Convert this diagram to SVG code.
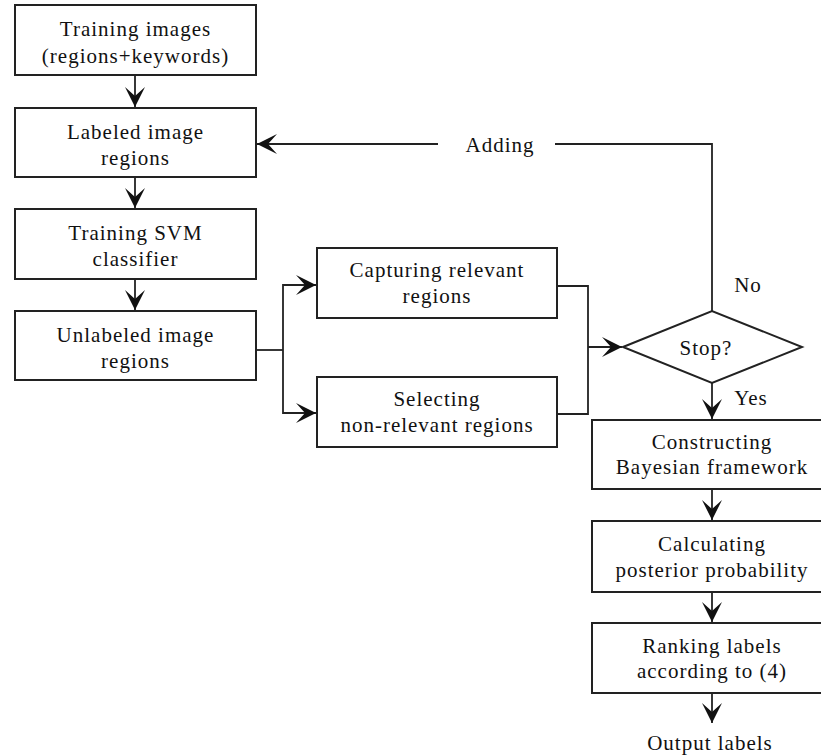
<svg xmlns="http://www.w3.org/2000/svg" width="821" height="756" viewBox="0 0 821 756">
<style>
.box{fill:#fff;stroke:#222;stroke-width:2}
.ln{fill:none;stroke:#222;stroke-width:1.8}
.arr{fill:none;stroke:#222;stroke-width:1.8;marker-end:url(#ah)}
.t{font-family:'Liberation Serif',serif;font-size:21px;fill:#111;text-anchor:middle;letter-spacing:1px}
</style>
<defs>
<marker id="ah" markerUnits="userSpaceOnUse" markerWidth="24" markerHeight="24" viewBox="-22 -12 24 24" refX="0" refY="0" orient="auto">
<path d="M0,0 L-20,-10 L-11,0 L-20,10 Z" fill="#111"/>
</marker>
</defs>
<rect width="821" height="756" fill="#fff"/>
<g id="connectors">
<line class="arr" x1="135" y1="75" x2="135" y2="107"/>
<line class="arr" x1="135" y1="177" x2="135" y2="208"/>
<line class="arr" x1="135" y1="279" x2="135" y2="310"/>
<polyline class="ln" points="256,350 283,350"/>
<polyline class="arr" points="283,350 283,285 316,285"/>
<polyline class="arr" points="283,350 283,413 316,413"/>
<polyline class="ln" points="557,286 588,286 588,414 557,414"/>
<line class="arr" x1="588" y1="347" x2="622" y2="347"/>
<polyline class="ln" points="712,311 712,144 555,144"/>
<line class="arr" x1="438" y1="144" x2="257" y2="144"/>
<line class="arr" x1="712" y1="383" x2="712" y2="419"/>
<line class="arr" x1="712" y1="489" x2="712" y2="520"/>
<line class="arr" x1="712" y1="592" x2="712" y2="622"/>
<line class="arr" x1="712" y1="693" x2="712" y2="723"/>
<text class="t" x="500" y="152">Adding</text>
<text class="t" x="748" y="292">No</text>
<text class="t" x="751" y="405">Yes</text>
</g>
<g id="n1"><rect class="box" x="15" y="5" width="241" height="70"/><text class="t" x="135.5" y="36">Training images</text><text class="t" x="135.5" y="63">(regions+keywords)</text></g>
<g id="n2"><rect class="box" x="15" y="108" width="241" height="69"/><text class="t" x="135.5" y="139">Labeled image</text><text class="t" x="135.5" y="165">regions</text></g>
<g id="n3"><rect class="box" x="15" y="209" width="241" height="70"/><text class="t" x="135.5" y="240">Training SVM</text><text class="t" x="135.5" y="266">classifier</text></g>
<g id="n4"><rect class="box" x="15" y="311" width="241" height="69"/><text class="t" x="135.5" y="342">Unlabeled image</text><text class="t" x="135.5" y="368">regions</text></g>
<g id="n5"><rect class="box" x="317" y="248" width="240" height="70"/><text class="t" x="437" y="277">Capturing relevant</text><text class="t" x="437" y="303">regions</text></g>
<g id="n6"><rect class="box" x="317" y="377" width="240" height="70"/><text class="t" x="437" y="406">Selecting</text><text class="t" x="437" y="432">non-relevant regions</text></g>
<g id="n7"><polygon class="box" points="623,347 712,311 802,347 712,383"/><text class="t" x="706" y="355">Stop?</text></g>
<g id="n8"><rect class="box" x="592" y="420" width="250" height="69"/><text class="t" x="712" y="449">Constructing</text><text class="t" x="712" y="474">Bayesian framework</text></g>
<g id="n9"><rect class="box" x="592" y="521" width="250" height="71"/><text class="t" x="712" y="551">Calculating</text><text class="t" x="712" y="577">posterior probability</text></g>
<g id="n10"><rect class="box" x="592" y="623" width="250" height="70"/><text class="t" x="712" y="653">Ranking labels</text><text class="t" x="712" y="678">according to (4)</text></g>
<g id="n11"><text class="t" x="710" y="750">Output labels</text></g>
</svg>
